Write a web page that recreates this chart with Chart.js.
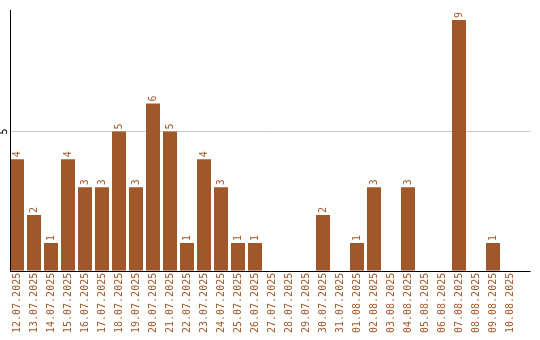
<!DOCTYPE html>
<html>
<head>
<meta charset="utf-8">
<script src="https://cdn.jsdelivr.net/npm/chart.js@4/dist/chart.umd.min.js"></script>
<style>
  html, body { margin: 0; padding: 0; background: #fff; }
  #wrap { width: 540px; height: 340px; }
</style>
</head>
<body>
<div id="wrap"><canvas id="barChart"></canvas></div>
<script>
// Data
const dates = [
    '12.07.2025', '13.07.2025', '14.07.2025', '15.07.2025', '16.07.2025',
    '17.07.2025', '18.07.2025', '19.07.2025', '20.07.2025', '21.07.2025',
    '22.07.2025', '23.07.2025', '24.07.2025', '25.07.2025', '26.07.2025',
    '27.07.2025', '28.07.2025', '29.07.2025', '30.07.2025', '31.07.2025',
    '01.08.2025', '02.08.2025', '03.08.2025', '04.08.2025', '05.08.2025',
    '06.08.2025', '07.08.2025', '08.08.2025', '09.08.2025', '10.08.2025'
];
const counts = [4, 2, 1, 4, 3, 3, 5, 3, 6, 5, 1, 4, 3, 1, 1, 0, 0, 0, 2, 0, 1, 3, 0, 3, 0, 0, 9, 0, 1, 0];
const yTicks = [5];

const brown = '#a0572a';
const monoFont = '"DejaVu Sans Mono", monospace';
const axisOverhang = 12;

// Axis lines and gridline, drawn from the scales
const axesPlugin = {
    id: 'axesPlugin',
    beforeDatasetsDraw(chart) {
        const ctx = chart.ctx;
        const area = chart.chartArea;
        const y = chart.scales.y;
        const first = chart.getDatasetMeta(0).data[0];
        const left = Math.round(first.x - first.width / 2) + 0.5;
        const right = area.right + axisOverhang;
        ctx.save();
        ctx.lineWidth = 1;
        ctx.strokeStyle = '#c8c8c8';
        yTicks.forEach(v => {
            const py = Math.round(y.getPixelForValue(v)) + 0.5;
            ctx.beginPath();
            ctx.moveTo(left, py);
            ctx.lineTo(right, py);
            ctx.stroke();
        });
        ctx.restore();
    },
    afterDatasetsDraw(chart) {
        const ctx = chart.ctx;
        const area = chart.chartArea;
        const y = chart.scales.y;
        const first = chart.getDatasetMeta(0).data[0];
        const left = Math.round(first.x - first.width / 2) + 0.5;
        const right = area.right + axisOverhang;
        const base = Math.round(y.getPixelForValue(0)) + 0.5;
        ctx.save();
        ctx.lineWidth = 1;
        ctx.strokeStyle = '#000';
        ctx.beginPath();
        ctx.moveTo(left, area.top);
        ctx.lineTo(left, base);
        ctx.lineTo(right, base);
        ctx.stroke();
        ctx.restore();
    }
};

// Value labels above bars + rotated y tick labels
const labelPlugin = {
    id: 'labelPlugin',
    afterDatasetsDraw(chart) {
        const ctx = chart.ctx;
        const meta = chart.getDatasetMeta(0);
        ctx.save();
        ctx.font = '10px ' + monoFont;
        ctx.fillStyle = brown;
        ctx.textAlign = 'left';
        ctx.textBaseline = 'middle';
        meta.data.forEach((bar, i) => {
            if (!counts[i]) return;
            ctx.save();
            ctx.translate(bar.x, bar.y - 2);
            ctx.rotate(-Math.PI / 2);
            ctx.fillText(String(counts[i]), 0, 0);
            ctx.restore();
        });
        const y = chart.scales.y;
        ctx.fillStyle = '#000';
        ctx.textAlign = 'center';
        yTicks.forEach(v => {
            ctx.save();
            ctx.translate(4, y.getPixelForValue(v));
            ctx.rotate(-Math.PI / 2);
            ctx.fillText(String(v), 0, 0);
            ctx.restore();
        });
        ctx.restore();
    }
};

new Chart(document.getElementById('barChart'), {
    type: 'bar',
    data: {
        labels: dates,
        datasets: [{
            data: counts,
            backgroundColor: brown,
            borderWidth: 0,
            barPercentage: 14 / 17,
            categoryPercentage: 1.0
        }]
    },
    options: {
        responsive: true,
        maintainAspectRatio: false,
        animation: false,
        layout: { padding: { left: 8.5, right: 21.5, top: 10, bottom: 5 } },
        plugins: {
            legend: { display: false },
            tooltip: { enabled: false }
        },
        scales: {
            x: {
                grid: { display: false, drawTicks: false },
                border: { display: false },
                ticks: {
                    color: brown,
                    font: { family: monoFont, size: 10 },
                    minRotation: 90,
                    maxRotation: 90,
                    autoSkip: false,
                    padding: 2
                }
            },
            y: {
                min: 0,
                max: 9.36,
                grid: { display: false, drawTicks: false },
                border: { display: false },
                ticks: { display: false }
            }
        }
    },
    plugins: [axesPlugin, labelPlugin]
});
</script>
</body>
</html>
